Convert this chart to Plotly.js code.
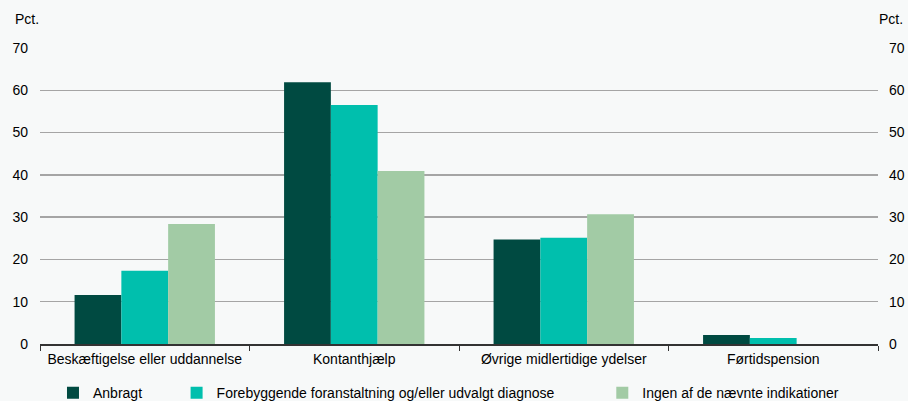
<!DOCTYPE html>
<html><head><meta charset="utf-8">
<script src="https://cdn.plot.ly/plotly-3.0.1.min.js"></script>
<style>html,body{margin:0;padding:0;background:#f7f9f9}</style>
</head><body><div id="chart" style="width:908px;height:401px"></div>
<script>
const categories = ["Beskæftigelse eller uddannelse", "Kontanthjælp", "Øvrige midlertidige ydelser", "Førtidspension"];
const seriesNames = ["Anbragt", "Forebyggende foranstaltning og/eller udvalgt diagnose", "Ingen af de nævnte indikationer"];
const anbragt = [11.6, 61.9, 24.7, 2.1];
const forebyggende = [17.3, 56.5, 25.1, 1.4];
const ingen = [28.4, 40.9, 30.7, 0];
const yTicks = [0, 10, 20, 30, 40, 50, 60, 70];
const colors = ["#004a41", "#00bfad", "#a2cba5"];
const seriesValues = [anbragt, forebyggende, ingen];
const legendIds = ["legend", "legend2", "legend3"];
const legendX = [0.0155, 0.163, 0.671];

const traces = seriesValues.map((vals, i) => ({
  type: "bar", name: seriesNames[i], x: categories, y: vals,
  marker: {color: colors[i], line: {width: 0}},
  legend: legendIds[i], hoverinfo: "y"
}));

const FONT = "Liberation Sans, Arial, sans-serif";
const legendBase = {orientation: "h", y: -0.112, yanchor: "top", xanchor: "left",
  bgcolor: "rgba(0,0,0,0)", font: {size: 14, color: "#000", family: FONT},
  itemwidth: 30, tracegroupgap: 0};

const layout = {
  width: 908, height: 401,
  margin: {l: 40, r: 30, t: 48, b: 57, autoexpand: false},
  paper_bgcolor: "#f7f9f9", plot_bgcolor: "#f7f9f9",
  font: {family: FONT, size: 14, color: "#000"},
  barmode: "group", bargap: 0.33, bargroupgap: 0,
  showlegend: true,
  xaxis: {type: "category", tickson: "boundaries", ticks: "outside", ticklen: 5, tickcolor: "#333",
    tickangle: 0, showline: true, linecolor: "#333", linewidth: 1.5, ticklabelstandoff: 2, fixedrange: true},
  yaxis: {range: [0, 70], tickvals: yTicks, showgrid: true, gridcolor: "#a5a5a5", gridwidth: 1.3,
    zeroline: false, showline: false, ticks: "", ticklabelstandoff: 11, fixedrange: true},
  yaxis2: {range: [0, 70], tickvals: yTicks, overlaying: "y", side: "right", showgrid: false,
    zeroline: false, showline: false, ticks: "", ticklabelstandoff: 10, fixedrange: true},
  annotations: [
    {text: "Pct.", xref: "paper", yref: "paper", x: -0.032, y: 1.098, xanchor: "left", yanchor: "middle", showarrow: false, font: {size: 14}},
    {text: "Pct.", xref: "paper", yref: "paper", x: 1.032, y: 1.098, xanchor: "right", yanchor: "middle", showarrow: false, font: {size: 14}}
  ]
};
legendIds.forEach((id, i) => { layout[id] = Object.assign({}, legendBase, {x: legendX[i]}); });

// invisible trace to activate the right axis
traces.push({type: "scatter", x: [categories[0]], y: [0], yaxis: "y2", mode: "markers",
  marker: {opacity: 0}, showlegend: false, hoverinfo: "skip"});

Plotly.newPlot("chart", traces, layout, {displayModeBar: false, staticPlot: true});
</script></body></html>
